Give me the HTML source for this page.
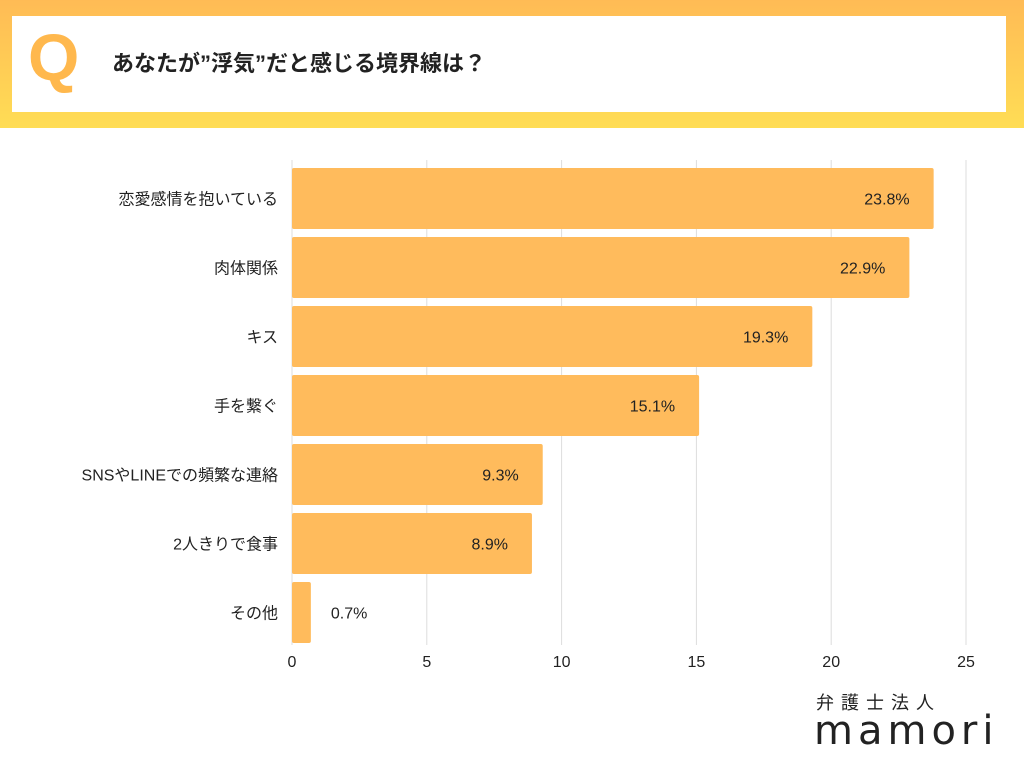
<!DOCTYPE html>
<html><head><meta charset="utf-8"><style>
body{margin:0;width:1024px;height:768px;background:#fff;overflow:hidden;font-family:"Liberation Sans","Noto Sans CJK JP",sans-serif;}
#hdr{position:absolute;left:0;top:0;width:1024px;height:128px;background:linear-gradient(#FFBB55,#FFDD55);}
#box{position:absolute;left:12px;top:16px;width:994px;height:96px;background:#fff;}
#q{position:absolute;left:28px;top:24px;font-size:66px;font-weight:bold;color:#FFB84D;font-family:"Liberation Sans",sans-serif;line-height:1;}
#title{position:absolute;left:112px;top:46px;font-size:22px;font-weight:bold;color:#222;}
#logo1{position:absolute;left:816px;top:689px;font-size:18px;letter-spacing:7px;color:#222;white-space:nowrap;}
#logo2{position:absolute;left:814px;top:711px;font-size:40px;letter-spacing:5px;color:#222;font-family:"DejaVu Sans",sans-serif;white-space:nowrap;line-height:1;}
</style></head><body>
<div id="hdr"><div id="box"></div>
<div id="q">Q</div>
<div id="title">あなたが”浮気”だと感じる境界線は？</div></div>
<svg id="chart" width="1024" height="768" style="position:absolute;left:0;top:0"></svg>
<div id="logo1">弁護士法人</div>
<div id="logo2">mamori</div>
<script>
const categories=["恋愛感情を抱いている","肉体関係","キス","手を繋ぐ","SNSやLINEでの頻繁な連絡","2人きりで食事","その他"];
const values=[23.8,22.9,19.3,15.1,9.3,8.9,0.7];
const ticks=[0,5,10,15,20,25];
const svg=document.getElementById('chart');const NS="http://www.w3.org/2000/svg";
const x=v=>292+v*(966-292)/25;const y=i=>168+i*69;const bh=61;
function mk(t,a){const e=document.createElementNS(NS,t);for(const k in a)e.setAttribute(k,a[k]);svg.appendChild(e);return e;}
ticks.forEach(t=>{
 if(t>0){const g=mk('line',{x1:x(t),x2:x(t),y1:160,y2:645,stroke:'#ddd','stroke-width':1});
 
 }
 const l=mk('text',{x:x(t),y:667,'text-anchor':'middle','font-size':16,fill:'#222'});l.textContent=t;
 
 
});
mk('line',{x1:292,x2:292,y1:160,y2:645,stroke:'#ddd'});
categories.forEach((c,i)=>{
 const r=mk('rect',{x:292,y:y(i),width:x(values[i])-292,height:bh,fill:'#FFBB5C',rx:2});
 
 
 const lb=mk('text',{x:278,y:y(i)+bh/2+6,'text-anchor':'end','font-size':16,fill:'#222'});lb.textContent=c;
 
 
 const inside=values[i]>3;
 const vt=mk('text',{x:inside?x(values[i])-24:x(values[i])+20,y:y(i)+bh/2+6,'text-anchor':inside?'end':'start','font-size':16,fill:'#222'});
 vt.textContent=values[i].toFixed(1)+'%';
 
 
});
</script>
</body></html>
